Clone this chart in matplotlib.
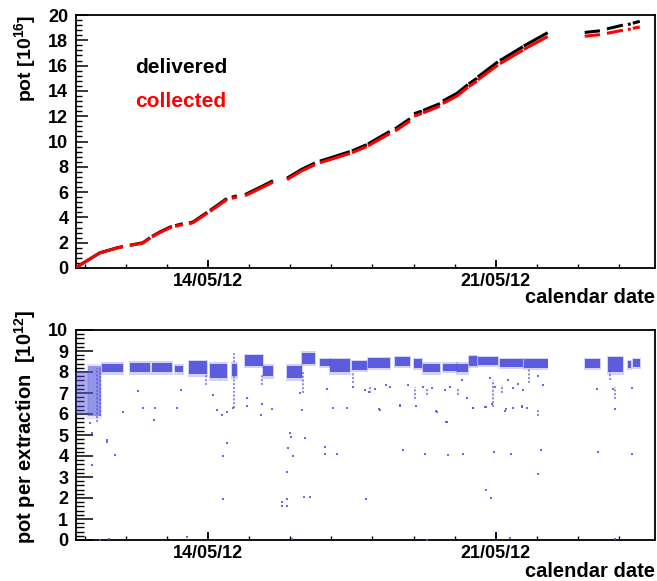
import numpy as np
import matplotlib
matplotlib.use("Agg")
import matplotlib.pyplot as plt
from matplotlib.ticker import FixedLocator, MultipleLocator, FixedFormatter

plt.rcParams['font.family'] = ['Liberation Sans', 'DejaVu Sans']
plt.rcParams['font.weight'] = 'bold'
plt.rcParams['mathtext.fontset'] = 'custom'
plt.rcParams['mathtext.rm'] = 'Liberation Sans:bold'
plt.rcParams['mathtext.default'] = 'rm'

# ---------------- data (x = days since 14/05/12 00:00) ----------------
date_ticks = [0, 7]
date_labels = ['14/05/12', '21/05/12']
x_range = (-3.21, 10.87)

# cumulative pot [1e16]; NaN = no beam (gap)
cum_days = [-3.21, -3.11, -2.63, -2.21, -2.07, np.nan, -1.90, -1.58, -1.41, np.nan,
            -1.36, -1.17, -0.88, np.nan, -0.80, -0.61, np.nan, -0.46, -0.36, -0.02,
            np.nan, 0.05, 0.46, np.nan, 0.58, 0.70, np.nan, 0.90, 1.34, 1.58, np.nan,
            1.92, 2.28, 2.60, np.nan, 2.72, 2.97, 3.45, np.nan, 3.50, 3.86, np.nan,
            3.89, 4.42, np.nan, 4.55, 4.91, np.nan, 5.01, 5.20, np.nan, 5.23, 5.64,
            np.nan, 5.71, 6.05, 6.32, np.nan, 6.34, 6.54, np.nan, 6.56, 7.05, np.nan,
            7.10, 7.66, np.nan, 7.68, 8.26, np.nan, 9.16, 9.53, np.nan, 9.70, 10.09,
            np.nan, 10.21, 10.28, np.nan, 10.33, 10.50]
delivered = [0.0, 0.24, 1.2, 1.6, 1.7, np.nan, 1.8, 2.0, 2.4, np.nan,
             2.5, 2.85, 3.3, np.nan, 3.35, 3.5, np.nan, 3.55, 3.65, 4.4,
             np.nan, 4.55, 5.5, np.nan, 5.6, 5.7, np.nan, 5.8, 6.5, 6.9, np.nan,
             7.1, 7.8, 8.3, np.nan, 8.45, 8.7, 9.2, np.nan, 9.25, 9.75, np.nan,
             9.8, 10.8, np.nan, 11.0, 11.8, np.nan, 12.2, 12.4, np.nan, 12.45, 13.0,
             np.nan, 13.2, 13.8, 14.5, np.nan, 14.55, 15.0, np.nan, 15.1, 16.3, np.nan,
             16.4, 17.5, np.nan, 17.55, 18.6, np.nan, 18.62, 18.75, np.nan, 18.9, 19.2,
             np.nan, 19.25, 19.3, np.nan, 19.35, 19.5]
collected = [0.0, 0.24, 1.19, 1.58, 1.68, np.nan, 1.78, 1.97, 2.36, np.nan,
             2.46, 2.8, 3.25, np.nan, 3.3, 3.44, np.nan, 3.49, 3.59, 4.33,
             np.nan, 4.48, 5.41, np.nan, 5.51, 5.61, np.nan, 5.71, 6.4, 6.79, np.nan,
             6.99, 7.68, 8.17, np.nan, 8.32, 8.57, 9.06, np.nan, 9.11, 9.6, np.nan,
             9.65, 10.63, np.nan, 10.83, 11.62, np.nan, 12.01, 12.21, np.nan, 12.26, 12.8,
             np.nan, 13.0, 13.59, 14.28, np.nan, 14.33, 14.77, np.nan, 14.87, 16.05, np.nan,
             16.15, 17.23, np.nan, 17.28, 18.3, np.nan, 18.32, 18.45, np.nan, 18.55, 18.8,
             np.nan, 18.85, 18.9, np.nan, 18.95, 19.05]

# pot per extraction [1e12]: dense bands (start day, end day, low, high)
band_start = [-3.21, -2.92, -2.58, -1.90, -1.36, -0.80, -0.46, 0.05, 0.58, 0.90, 1.34,
              1.92, 2.28, 2.72, 2.97, 3.50, 3.89, 4.55, 5.01, 5.23, 5.71, 6.05, 6.34,
              6.56, 7.10, 7.68, 9.16, 9.72, 10.21, 10.33]
band_end = [-2.92, -2.60, -2.07, -1.41, -0.88, -0.61, -0.02, 0.46, 0.70, 1.34, 1.58,
            2.28, 2.60, 2.97, 3.45, 3.86, 4.42, 4.91, 5.20, 5.64, 6.05, 6.32, 6.54,
            7.05, 7.66, 8.26, 9.53, 10.09, 10.28, 10.50]
band_low = [6.0, 5.9, 8.0, 8.0, 8.0, 8.0, 7.9, 7.7, 7.8, 8.3, 7.8,
            7.7, 8.4, 8.3, 8.0, 8.1, 8.2, 8.3, 8.2, 8.0, 8.05, 8.0, 8.3,
            8.35, 8.25, 8.2, 8.2, 8.0, 8.2, 8.25]
band_high = [8.0, 8.3, 8.4, 8.45, 8.45, 8.3, 8.5, 8.4, 8.4, 8.8, 8.3,
             8.3, 8.9, 8.6, 8.6, 8.5, 8.65, 8.7, 8.6, 8.4, 8.4, 8.4, 8.75,
             8.7, 8.6, 8.6, 8.6, 8.7, 8.5, 8.6]
band_density = [0.45, 0.6, 1, 1, 1, 1, 1, 1, 1, 1, 1,
                1, 1, 1, 1, 1, 1, 1, 1, 1, 1, 1, 1,
                1, 1, 1, 1, 1, 1, 1]

# sparse vertical streaks (day, low, high)
streak_day = [-2.70, -2.63, 0.63, 2.31, 3.52, 3.94, 5.03, 5.32, 6.08, 6.93, 7.15,
              7.80, 8.02, 9.77, 9.89, -0.05, 1.31]
streak_low = [5.6, 5.9, 6.3, 7.0, 7.5, 7.0, 6.7, 6.9, 6.9, 6.35, 7.0,
              7.5, 5.9, 7.6, 6.7, 7.4, 7.4]
streak_high = [8.2, 8.2, 8.9, 8.0, 8.0, 7.3, 7.3, 7.2, 7.2, 7.6, 7.4,
               8.25, 6.2, 8.1, 7.3, 8.0, 7.9]

# isolated extractions (day, value)
iso_day = [-2.87, -2.82, -2.82, -2.46, -2.46, -2.26, -2.07, -1.70, -1.58, -1.29, -1.31,
           -0.75, -0.66, 0.12, 0.22, 0.34, 0.46, 0.46, 0.36, 0.36, 0.61, 0.95, 0.95,
           1.31, 1.29, 1.56, 1.99, 2.02, 1.94, 2.07, 1.92, 1.92, 1.80, 1.80, 1.92,
           2.33, 2.48, 2.36, 2.28, 2.24, 2.84, 2.84, 2.89, -2.41, -0.51, -2.63, 2.04,
           3.14, 3.84, 4.74, 5.27, 5.83, 6.20, 6.95, 7.37, 8.09, 8.02, 6.76, 6.88,
           9.48, 10.31, 5.79, 9.89, 9.46, 10.31, 3.04, 3.38, 4.16, 4.67, 5.06, 5.54,
           6.30, 6.44, 6.76, 7.24, 7.41, 7.63, 7.75, 3.91, 5.76, 7.34, 9.89, 5.32,
           3.52, 3.82, 4.06, 4.33, 4.42, 4.86, 5.23, 5.44, 5.88, 4.67, 4.18, 5.57,
           5.81, 6.44, 6.73, 6.98, 6.85, 6.17, 6.90, 7.29, 7.41, 7.54, 7.66, 8.02,
           8.14, 7.22, 7.63, 9.84]
iso_val = [5.55, 5.1, 3.57, 4.75, 4.65, 4.05, 6.1, 7.1, 6.3, 6.3, 5.7,
           6.3, 7.15, 6.9, 6.2, 5.95, 6.1, 4.6, 4.0, 1.95, 6.3, 6.75, 6.4,
           6.5, 5.95, 6.25, 5.1, 4.9, 4.4, 4.0, 3.25, 1.95, 1.8, 1.6, 1.6,
           2.05, 2.05, 4.85, 6.2, 7.0, 4.45, 4.1, 7.2, 0.05, 0.15, 0.0, 0.05,
           4.1, 1.95, 4.3, 4.1, 4.05, 4.1, 4.2, 4.1, 4.3, 3.15, 2.4, 2.0,
           4.2, 4.1, 5.6, 6.25, 7.2, 7.25, 6.3, 6.3, 6.25, 6.4, 6.4, 6.15,
           6.75, 6.3, 6.35, 6.25, 6.3, 6.35, 6.3, 7.05, 7.15, 0.1, 0.05, 0.0,
           7.3, 7.15, 7.2, 7.4, 7.3, 7.4, 7.3, 7.25, 7.3, 6.45, 6.2, 6.1,
           5.6, 6.3, 6.35, 7.3, 7.7, 7.6, 6.5, 7.6, 7.25, 7.45, 7.15, 7.8,
           7.4, 6.15, 6.4, 7.2]

# ---------------- figure ----------------
W, H = 657, 581
fig = plt.figure(figsize=(W / 100, H / 100), dpi=100)

def axrect(x0, y0, x1, y1):
    return [x0 / W, 1 - y1 / H, (x1 - x0) / W, (y1 - y0) / H]

ax1 = fig.add_axes(axrect(76, 15, 655, 268))
ax2 = fig.add_axes(axrect(76, 330, 655, 540))

blue = '#5252dc'

# top panel
ax1.plot(cum_days, delivered, color='black', lw=2.2, solid_capstyle='butt', zorder=3)
ax1.plot(cum_days, collected, color='#ff0000', lw=2.2, solid_capstyle='butt', zorder=4)
ax1.set_ylim(0, 20)
ax1.text(0.102, 0.771, 'delivered', transform=ax1.transAxes, fontsize=15,
         fontweight='bold', color='black', va='baseline')
ax1.text(0.102, 0.636, 'collected', transform=ax1.transAxes, fontsize=15,
         fontweight='bold', color='#ff0000', va='baseline')

# bottom panel
for s, e, lo, hi, dn in zip(band_start, band_end, band_low, band_high, band_density):
    # soft halo, then dense core
    ax2.fill_between([s - 0.02, e + 0.02], [lo - 0.12, lo - 0.12], [hi + 0.08, hi + 0.08],
                     color=blue, lw=0, alpha=0.25 * dn, zorder=2)
    ax2.fill_between([s, e], [lo, lo], [hi, hi], color=blue, lw=0, alpha=0.92 * dn,
                     zorder=3)
ax2.vlines(streak_day, streak_low, streak_high, color=blue, lw=1.3, alpha=0.7,
           linestyles=(0, (1.2, 0.9)), zorder=3)
ax2.scatter(iso_day, iso_val, s=3, marker='s', color=blue, linewidths=0, zorder=3,
            alpha=0.85, clip_on=False)
ax2.set_ylim(0, 10)

for ax, ymaj, ymin, ymajlen, yminlen in [(ax1, 2, 0.4, 8.6, 4.6), (ax2, 1, 0.2, 12, 5.5)]:
    ax.set_xlim(*x_range)
    ax.xaxis.set_major_locator(FixedLocator(date_ticks))
    ax.xaxis.set_major_formatter(FixedFormatter(date_labels))
    ax.xaxis.set_minor_locator(MultipleLocator(1))
    ax.yaxis.set_major_locator(MultipleLocator(ymaj))
    ax.yaxis.set_minor_locator(MultipleLocator(ymin))
    ax.tick_params(axis='y', which='major', direction='in', length=ymajlen, width=1.1,
                   labelsize=13, pad=5.5)
    ax.tick_params(axis='y', which='minor', direction='in', length=yminlen, width=1.0)
    ax.tick_params(axis='x', which='major', direction='in', length=6, width=1.3,
                   labelsize=13, pad=3.5)
    ax.tick_params(axis='x', which='minor', direction='in', length=3, width=1.0)
    for lab in ax.get_xticklabels() + ax.get_yticklabels():
        lab.set_fontweight('bold')
    for sp in ax.spines.values():
        sp.set_linewidth(1.3)

fig.text(25 / W, 1 - 15 / H, r'pot [10$^{16}$]', rotation=90, ha='center', va='top',
         fontsize=14, fontweight='bold')
fig.text(25 / W, 1 - 310 / H, r'pot per extraction  [10$^{12}$]', rotation=90,
         ha='center', va='top', fontsize=14.5, fontweight='bold')
fig.text(655 / W, 1 - 303 / H, 'calendar date', ha='right', va='baseline',
         fontsize=14.5, fontweight='bold')
fig.text(655 / W, 1 - 577 / H, 'calendar date', ha='right', va='baseline',
         fontsize=14.5, fontweight='bold')

fig.savefig('out.png', dpi=100)
